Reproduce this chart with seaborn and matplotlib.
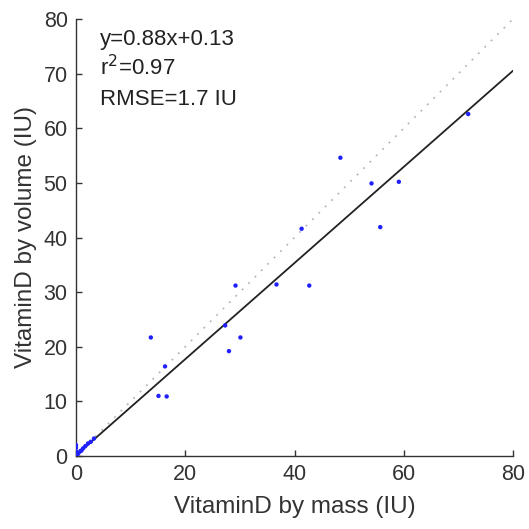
import matplotlib
matplotlib.use("Agg")
import matplotlib.pyplot as plt
import numpy as np
import pandas as pd
import seaborn as sns

# Vitamin D measured by mass vs by volume (IU)
by_mass = [0.0, 0.0, 0.0, 0.0, 0.1, 0.2, 0.3, 0.5, 0.8, 1.0, 1.3, 1.7, 2.2, 2.7, 3.3,
           13.7, 16.3, 15.1, 16.6, 27.3, 30.1, 28.0, 29.2, 36.7, 42.7,
           41.3, 55.7, 54.1, 59.1, 48.4, 71.8]
by_volume = [0.3, 0.8, 1.5, 2.0, 0.1, 0.4, 0.3, 0.6, 0.9, 1.0, 1.4, 1.8, 2.3, 2.6, 3.2,
             21.7, 16.4, 11.0, 10.9, 23.9, 21.7, 19.2, 31.2, 31.4, 31.2,
             41.6, 41.9, 49.9, 50.2, 54.6, 62.6]

# Linear fit reported on the chart
slope = 0.88
intercept = 0.13
r_squared = 0.97
rmse = 1.7

axis_limits = [0, 80]

sns.set_style("white", {"xtick.bottom": True, "ytick.left": True,
                        "xtick.direction": "in", "ytick.direction": "in"})
plt.rcParams["font.family"] = ["Liberation Sans", "DejaVu Sans"]
plt.rcParams["xtick.major.size"] = 4
plt.rcParams["ytick.major.size"] = 4

fig = plt.figure(figsize=(5.29, 5.29), dpi=100)
ax = fig.add_axes([76 / 529, 73 / 529, 437 / 529, 437 / 529])

df = pd.DataFrame({"mass": by_mass, "volume": by_volume})
line_x = np.array(axis_limits, dtype=float)
ident = pd.DataFrame({"x": line_x, "y": line_x})
fit = pd.DataFrame({"x": line_x, "y": slope * line_x + intercept})

sns.lineplot(data=ident, x="x", y="y", ax=ax, color="#b8b8b8",
             linestyle=(0, (1, 4)), linewidth=1.3)
sns.lineplot(data=fit, x="x", y="y", ax=ax, color="#222222", linewidth=1.3)
sns.scatterplot(data=df, x="mass", y="volume", ax=ax, color="#2020ff",
                s=10, edgecolor="none", zorder=3)

ax.set_xlim(axis_limits)
ax.set_ylim(axis_limits)
ax.set_xticks(np.arange(0, 81, 20))
ax.set_yticks(np.arange(0, 81, 10))
ax.set_xlabel("VitaminD by mass (IU)", fontsize=17.5, color="#333333", labelpad=8)
ax.set_ylabel("VitaminD by volume (IU)", fontsize=17.5, color="#333333", labelpad=5)

for side in ["top", "right"]:
    ax.spines[side].set_visible(False)
for side in ["left", "bottom"]:
    ax.spines[side].set_color("#333333")
    ax.spines[side].set_linewidth(1.0)

ax.tick_params(which="major", bottom=True, left=True, direction="in",
               length=4, width=1.0, color="#333333", labelsize=15.5,
               labelcolor="#333333", pad=6)

text_kw = dict(transform=ax.transAxes, fontsize=16, color="#222222",
               ha="left", va="baseline")
ax.text(0.055, 0.9405, f"y={slope}x+{intercept}", **text_kw)
ax.text(0.055, 0.872, f"r$^2$={r_squared}", **text_kw)
ax.text(0.055, 0.803, f"RMSE={rmse} IU", **text_kw)

fig.savefig("out.png", dpi=100)
